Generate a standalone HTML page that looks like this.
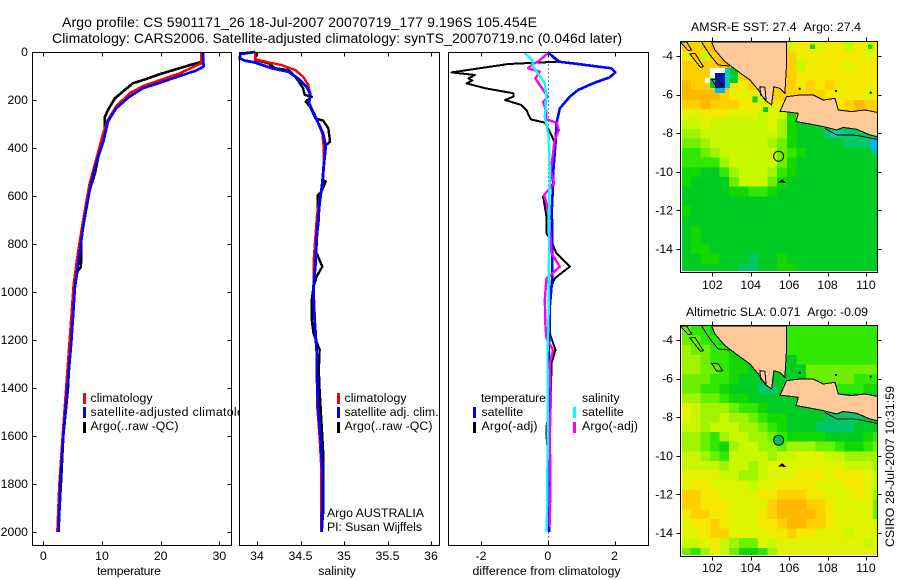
<!DOCTYPE html>
<html>
<head>
<meta charset="utf-8">
<title>Argo profile</title>
<style>
html,body{margin:0;padding:0;background:#fff;}
svg{display:block;}
text{font-family:"Liberation Sans",sans-serif;font-size:12.3px;fill:#000;}
.t{font-size:14px;}
</style>
</head>
<body>
<svg id="fig" xmlns="http://www.w3.org/2000/svg" width="900" height="580" viewBox="0 0 900 580">
<defs>
<clipPath id="clipMap1"><rect x="682" y="42" width="195" height="229"/></clipPath>
<clipPath id="clipMap2"><rect x="682" y="326" width="195" height="229"/></clipPath>
<clipPath id="clipCoast1"><rect x="680" y="42" width="197" height="231"/></clipPath>
<clipPath id="clipCoast2"><rect x="680" y="326" width="197" height="231"/></clipPath>
</defs>
<text class="t" x="62" y="27" textLength="475" lengthAdjust="spacing">Argo profile: CS 5901171_26 18-Jul-2007 20070719_177 9.196S 105.454E</text>
<text class="t" x="52" y="43" textLength="570" lengthAdjust="spacing">Climatology: CARS2006. Satellite-adjusted climatology: synTS_20070719.nc (0.046d later)</text>

<g id="panelT"></g>
<g>
<rect x="83" y="393" width="3" height="11" fill="#ff0000"/>
<rect x="83" y="407" width="3" height="11" fill="#0000ff"/>
<rect x="83" y="422" width="3" height="11" fill="#000"/>
<text x="90.5" y="402" textLength="62" lengthAdjust="spacing">climatology</text>
<text x="90.5" y="416" textLength="167" lengthAdjust="spacing">satellite-adjusted climatology</text>
<text x="90.5" y="430" textLength="88" lengthAdjust="spacing">Argo(..raw -QC)</text>
</g>

<g id="panelS"></g>
<g>
<rect x="337" y="393" width="3" height="11" fill="#ff0000"/>
<rect x="337" y="407" width="3" height="11" fill="#0000ff"/>
<rect x="337" y="422" width="3" height="11" fill="#000"/>
<text x="344.5" y="402" textLength="62" lengthAdjust="spacing">climatology</text>
<text x="344.5" y="416" textLength="94" lengthAdjust="spacing">satellite adj. clim.</text>
<text x="344.5" y="430" textLength="88" lengthAdjust="spacing">Argo(..raw -QC)</text>
<text x="327" y="517" textLength="97" lengthAdjust="spacing">Argo AUSTRALIA</text>
<text x="327" y="531" textLength="95" lengthAdjust="spacing">PI: Susan Wijffels</text>
</g>

<g id="panelD"></g>
<g>
<text x="481" y="402" textLength="65" lengthAdjust="spacing">temperature</text>
<text x="582" y="402">salinity</text>
<rect x="473" y="407" width="3" height="11" fill="#0000ff"/>
<rect x="473" y="422" width="3" height="11" fill="#000"/>
<rect x="573" y="407" width="3" height="11" fill="#00ffff"/>
<rect x="573" y="422" width="3" height="11" fill="#ff00ff"/>
<text x="481.5" y="416">satellite</text>
<text x="481.5" y="430" textLength="56" lengthAdjust="spacing">Argo(-adj)</text>
<text x="582" y="416">satellite</text>
<text x="582" y="430" textLength="56" lengthAdjust="spacing">Argo(-adj)</text>
</g>

<g id="map1"></g>
<g id="map2"></g>

<text x="129" y="575" text-anchor="middle" textLength="64" lengthAdjust="spacing">temperature</text>
<text x="337" y="575" text-anchor="middle">salinity</text>
<text x="546.5" y="575" text-anchor="middle" textLength="148" lengthAdjust="spacing">difference from climatology</text>
<text x="776" y="31" text-anchor="middle" textLength="170" lengthAdjust="spacing">AMSR-E SST: 27.4&#160;&#160;Argo: 27.4</text>
<text x="777" y="316" text-anchor="middle" textLength="182" lengthAdjust="spacing">Altimetric SLA: 0.071&#160;&#160;Argo: -0.09</text>
<text transform="translate(894,466.5) rotate(-90)" text-anchor="middle" textLength="161" lengthAdjust="spacing">CSIRO 28-Jul-2007 10:31:59</text>
</svg>

<script>
// ---- Profile data (depth in dbar, values in native units) ----
var depthTicks = [0,200,400,600,800,1000,1200,1400,1600,1800,2000];
var tempTicks = [0,10,20,30];
var salTicks = [34,34.5,35,35.5,36];
var diffTicks = [-2,0,2];

var tempArgoDepth = [0,40,54,75,92,117,130,158,193,242,270,325,408,505,575,672,755,895,915,978,1100,1400,1600,1800,2000];
var tempArgoValue = [27.2,27.2,25,22.2,19.9,17,15.3,13.9,12.2,11,10.5,10.5,9.6,8.8,7.9,7.1,6.5,6.4,5.8,5.4,4.8,4.2,3.4,3.0,2.55];
var tempClimDepth = [0,47,57,89,117,142,172,228,283,339,450,547,700,839,964,1200,1400,1600,1800,2000];
var tempClimValue = [26.9,26.9,26,23.2,19.9,17,14.7,12.4,11,10.2,9,7.9,6.8,5.9,5.2,4.5,3.9,3.3,2.75,2.4];
var tempSatDepth = [0,61,78,100,128,151,186,235,290,367,464,575,728,853,978,1200,1400,1600,1800,2000];
var tempSatValue = [27.2,27.3,26,23.2,19.9,17,14.7,12.4,11,10.3,9,7.9,6.8,6.1,5.4,4.8,4.1,3.4,2.9,2.6];

var salArgoDepth = [0,33,47,68,75,103,151,179,186,207,228,276,286,318,374,394,533,540,582,596,651,700,825,894,935,978,1033,1117,1172,1241,1325,1408,1659,1923,1990];
var salArgoValue = [33.99,33.98,34.13,34.21,34.36,34.44,34.53,34.55,34.63,34.56,34.61,34.67,34.76,34.82,34.84,34.77,34.76,34.79,34.74,34.70,34.70,34.71,34.67,34.75,34.686,34.65,34.63,34.63,34.65,34.72,34.71,34.72,34.76,34.76,34.745];
var salClimDepth = [3,30,43,54,75,103,137,172,214,269,339,408,533,680,880,935,978,1158,1250,1464,1604,1743,2000];
var salClimValue = [33.98,33.98,34.13,34.28,34.44,34.53,34.59,34.61,34.60,34.67,34.75,34.77,34.76,34.69,34.65,34.65,34.65,34.67,34.69,34.69,34.72,34.74,34.74];
var salSatDepth = [0,8,26,36,44,68,82,110,144,172,214,269,339,394,464,547,630,755,894,978,1047,1158,1269,1325,1464,1604,1743,1882,2000];
var salSatValue = [33.98,33.81,33.80,33.86,33.98,34.17,34.36,34.47,34.57,34.61,34.60,34.67,34.76,34.79,34.77,34.75,34.72,34.69,34.67,34.65,34.65,34.67,34.69,34.686,34.70,34.73,34.75,34.75,34.745];

var diffTempArgoDepth = [0,40,50,85,96,110,119,131,151,172,186,200,221,242,281,294,346,380,492,547,603,686,756,783,839,894,943,992,1172,1242,1297,1450,1561,1600,1800,2000];
var diffTempArgoValue = [0,0.36,-1.18,-2.88,-2.18,-2.38,-2.26,-2.43,-1.88,-1.03,-1.03,-1.28,-0.79,-0.64,-0.51,-0.09,0.11,0.21,0.09,0.16,-0.14,-0.04,-0.04,0.09,0.26,0.66,0.21,0.06,0.06,0.23,0.11,0.09,-0.04,-0.04,0.08,0];
var diffTempSatDepth = [0,40,50,61,68,85,106,128,158,186,235,297,380,506,547,686,700,950,1061,1256,1533,1600,2000];
var diffTempSatValue = [0,0.31,0.9,1.5,1.9,2.02,1.85,1.4,0.91,0.66,0.36,0.26,0.23,0.16,0.16,0.11,0.13,0.13,0.06,0.03,0,0,0.04];
var diffSalArgoDepth = [5,40,50,68,82,110,158,186,207,249,281,294,325,367,492,547,596,631,700,839,894,929,943,1033,1144,1193,1242,1297,1450,1600,1800,1980];
var diffSalArgoValue = [0,-0.29,-0.44,-0.59,-0.24,-0.37,-0.14,0.01,-0.14,-0.04,-0.04,0.26,0.33,0.21,0.09,0.19,-0.11,-0.04,0.05,0.11,0.36,0.09,-0.04,-0.09,-0.07,-0.04,0.16,0.06,0.09,0.06,0.08,0.05];
var diffSalSatDepth = [5,33,61,131,186,269,353,506,686,700,1061,1256,1600,2000];
var diffSalSatValue = [-0.69,-0.47,-0.44,-0.09,-0.04,-0.09,0.03,0.06,0.03,0.04,0.03,-0.01,0,-0.03];

// ---- Map data: each character is one 0.5-degree colour level ----
var levelColors = {W:'#ffffff',N:'#0018a8',I:'#00b8e8',2:'#00d0b0',3:'#00c868',4:'#00cc24',5:'#12d800',6:'#30e800',7:'#6cf000',8:'#a0f400',9:'#c8f800',A:'#e0f400',B:'#f4ea00',C:'#ffd000',D:'#ffb800'};
var sstRows = [
"CCCDDCCCCCCABBABB9BAB",
"BC9CDCCCCCCCABBBBBBAB",
"CCCCDDCCCCCC9BBBBABBB",
"CCCCCBCCCCCCBBBBBBBBB",
"DCCCDBBCCCCCBCBCBBBBB",
"DDDDCBABACCCCCCBBBBAB",
"CCDCCCBBAABCCCCBBCDCC",
"AABBBAAA9A95CCCCCCCCC",
"99A999999A85444444444",
"889999999985444333322",
"778999999875444443332",
"667899999976544444443",
"666689999975444444444",
"554468999865444444444",
"544447999754444444444",
"444445566544444444444",
"444444444444444444444",
"544444444444444444444",
"444444444444444444444",
"454444444444444444444",
"454444444444444444444",
"455444444444444444444",
"445544434454444444444",
"444444334455444444444"];
var slaRows = [
"766556666666666666666",
"776655566666666666666",
"877665544666666666666",
"887665544444666666666",
"887765544444477777777",
"777665444444477777666",
"776654443344444666655",
"887765544444444444444",
"A98887665444444444444",
"A98898876554444333344",
"998999887654443333444",
"887689988765555444456",
"887658998878887765567",
"998769999899AAA998888",
"999989989AAAAAAAA9998",
"AAAA99889AAABBBABBBA9",
"ABBAAAA9AABBBBAAABBA9",
"CCBBAAAABBCCCBBAAABA8",
"CCBBBAAAACDDDCCBAAAA7",
"BCCBBAAABCDDDDCBAAAA7",
"ABBCBAAABBCDDCCBAAAA9",
"AABCCAAAABBCBBAAA9AAA",
"99AB9877A9AAAAAAAAA9A",
"768A975568AAAAAAAAAAA"];
// Small SST features: west lon, north lat, east lon, south lat, level
var sstPatchWest = [101.88,101.62,101.88,102.14,102.14,102.66,102.92,104.10,104.65,107.10,110.10,107.80,108.13,110.20];
var sstPatchNorth = [-4.62,-5.14,-5.14,-4.88,-5.66,-4.62,-4.62,-6.10,-6.65,-3.40,-3.40,-7.60,-7.85,-8.25];
var sstPatchEast = [102.66,101.88,102.14,102.66,102.66,102.92,103.34,104.35,104.90,107.35,110.35,110.60,108.80,110.60];
var sstPatchSouth = [-5.14,-5.40,-5.66,-5.66,-5.92,-5.66,-5.40,-6.40,-6.90,-3.65,-3.65,-8.30,-8.20,-8.90];
var sstPatchLevel = ['W','W','4','N','I','2','4','4','4','5','5','3','2','I'];

var mapLonTicks = [102,104,106,108,110];
var mapLatTicks = [-4,-6,-8,-10,-12,-14];
var sumatraLon = [101.97,102.14,102.66,103.01,103.35,103.96,104.40,104.74,105.09,105.21,105.52,105.78,105.87,105.87];
var sumatraLat = [-3.27,-3.69,-4.29,-4.55,-4.81,-5.24,-5.76,-6.28,-6.54,-5.59,-5.68,-5.93,-4.38,-3.27];
var javaLon = [105.52,105.87,106.57,107.26,107.78,108.39,108.56,109.26,109.95,110.6,110.6,110.21,109.52,108.82,108.48,107.78,106.91,106.36,106.48,105.78];
var javaLat = [-6.88,-6.11,-6.02,-6.02,-6.28,-6.19,-6.80,-6.88,-6.80,-6.92,-8.18,-8.09,-7.80,-7.70,-7.83,-7.66,-7.49,-7.40,-6.97,-6.88];
var siberutLon = [100.84,101.10,101.53,101.39];
var siberutLat = [-3.90,-3.86,-4.55,-4.59];
var sipuraLon = [100.32,100.66,100.92,100.75];
var sipuraLat = [-3.27,-3.27,-3.69,-3.72];
var engganoLon = [101.97,102.31,102.54,102.23];
var engganoLat = [-5.21,-5.24,-5.59,-5.62];
var sundaLon = [104.48,104.74,104.80,104.52];
var sundaLat = [-5.59,-5.62,-6.28,-6.02];
var shelfLon = [101.44,101.88,102.31,102.92];
var shelfLat = [-3.27,-3.95,-4.47,-4.52];
var javaShelfLon = [107.87,108.48,109.52,110.6];
var javaShelfLat = [-7.76,-8.09,-8.11,-8.32];
var christmasLon = [105.49,105.65,105.78];
var christmasLat = [-10.53,-10.42,-10.55];
var isletLon = [106.5,110.2,108.39];
var isletLat = [-5.65,-5.85,-5.76];
var argoLon = 105.454;
var argoLat = -9.196;

var NS = 'http://www.w3.org/2000/svg';
function make(tag, parent, name) {
  var el = document.createElementNS(NS, tag);
  
  
  parent.appendChild(el);
  return el;
}
function linear(d0, d1, p0, p1) {
  return function (v) { return p0 + (v - d0) * (p1 - p0) / (d1 - d0); };
}
var yDepth = linear(0, 2000, 52, 532);
var TOP = 52.5, BOTTOM = 545.5;

function seg(parent, name, x1, y1, x2, y2) {
  var el = make('line', parent, name);
  el.setAttribute('x1', x1);
  el.setAttribute('y1', y1);
  el.setAttribute('x2', x2);
  el.setAttribute('y2', y2);
  el.setAttribute('stroke', '#000');
  el.setAttribute('stroke-width', '1');
  el.setAttribute('shape-rendering', 'crispEdges');
  return el;
}
function label(parent, name, x, y, anchor, str) {
  var el = make('text', parent, name);
  el.setAttribute('x', x);
  el.setAttribute('y', y);
  el.setAttribute('text-anchor', anchor);
  el.textContent = str;
  return el;
}
function frame(parent, left, right, top, bottom) {
  var el = make('rect', parent, 'panel-frame');
  el.setAttribute('x', left);
  el.setAttribute('y', top);
  el.setAttribute('width', right - left);
  el.setAttribute('height', bottom - top);
  el.setAttribute('fill', 'none');
  el.setAttribute('stroke', '#000');
  el.setAttribute('shape-rendering', 'crispEdges');
}
function panelBase(id, left, right, xScale, ticks) {
  var g = document.getElementById(id);
  var bg = make('rect', g, 'panel-background');
  bg.setAttribute('x', left);
  bg.setAttribute('y', TOP);
  bg.setAttribute('width', right - left);
  bg.setAttribute('height', BOTTOM - TOP);
  bg.setAttribute('fill', '#fff');
  ticks.forEach(function (t) {
    var x = Math.round(xScale(t)) + 0.5;
    seg(g, 'x-tick-top', x, TOP, x, TOP + 4);
    seg(g, 'x-tick-bottom', x, BOTTOM - 4, x, BOTTOM);
    label(g, 'x-tick-label', xScale(t), 560, 'middle', String(t));
  });
  return g;
}
function series(g, name, color, xScale, depths, values, width) {
  var pts = depths.map(function (d, i) { return xScale(values[i]).toFixed(1) + ',' + yDepth(d).toFixed(1); });
  var el = make('polyline', g, name);
  el.setAttribute('points', pts.join(' '));
  el.setAttribute('fill', 'none');
  el.setAttribute('stroke', color);
  el.setAttribute('stroke-width', width);
  el.setAttribute('stroke-linejoin', 'round');
  el.setAttribute('shape-rendering', 'crispEdges');
}

// Temperature panel
var xT = linear(0, 30, 43.3, 219.4);
var gT = panelBase('panelT', 32.5, 231.5, xT, tempTicks);
depthTicks.forEach(function (d) {
  var y = Math.round(yDepth(d)) + 0.5;
  seg(gT, 'y-tick-left', 32.5, y, 36.5, y);
  seg(gT, 'y-tick-right', 227.5, y, 231.5, y);
  label(gT, 'y-tick-label', 28, yDepth(d) + 4, 'end', String(d));
});
series(gT, 'temperature-argo-line', '#000', xT, tempArgoDepth, tempArgoValue, 2.6);
series(gT, 'temperature-climatology-line', '#ff0000', xT, tempClimDepth, tempClimValue, 2.6);
series(gT, 'temperature-satellite-line', '#0000ff', xT, tempSatDepth, tempSatValue, 2.6);
frame(gT, 32.5, 231.5, TOP, BOTTOM);

// Salinity panel
var xS = linear(34, 36, 257, 431);
var gS = panelBase('panelS', 239.5, 439.5, xS, salTicks);
series(gS, 'salinity-argo-line', '#000', xS, salArgoDepth, salArgoValue, 2.4);
series(gS, 'salinity-climatology-line', '#ff0000', xS, salClimDepth, salClimValue, 2.4);
series(gS, 'salinity-satellite-line', '#0000ff', xS, salSatDepth, salSatValue, 2.8);
frame(gS, 239.5, 439.5, TOP, BOTTOM);

// Difference panel
var xD = linear(-2, 2, 481, 614.6);
var gD = panelBase('panelD', 448.5, 648.5, xD, diffTicks);
var zeroX = Math.round(xD(0)) + 0.5;
var zeroLine = seg(gD, 'zero-reference-line', zeroX, TOP, zeroX, BOTTOM);
zeroLine.setAttribute('stroke-dasharray', '1 3');
series(gD, 'difference-temperature-argo-line', '#000', xD, diffTempArgoDepth, diffTempArgoValue, 2);
series(gD, 'difference-temperature-satellite-line', '#0000ff', xD, diffTempSatDepth, diffTempSatValue, 2.6);
series(gD, 'difference-salinity-argo-line', '#ff00ff', xD, diffSalArgoDepth, diffSalArgoValue, 2.4);
series(gD, 'difference-salinity-satellite-line', '#00ffff', xD, diffSalSatDepth, diffSalSatValue, 2.4);
frame(gD, 448.5, 648.5, TOP, BOTTOM);

// Maps
function shape(g, name, lons, lats, lonX, latY, fill, closed) {
  var pts = lons.map(function (lo, i) { return lonX(lo).toFixed(1) + ',' + latY(lats[i]).toFixed(1); });
  var el = make(closed ? 'polygon' : 'polyline', g, name);
  el.setAttribute('points', pts.join(' '));
  el.setAttribute('fill', fill);
  el.setAttribute('stroke', '#000');
  el.setAttribute('stroke-width', '1');
  el.setAttribute('shape-rendering', 'crispEdges');
}
function drawMap(id, rows, offset, clipData, clipCoast, fillCircle, labelY) {
  var g = document.getElementById(id);
  var lonX = linear(102, 110, 712.3, 865.9);
  var latY = linear(-4, -14, 56 + offset, 249 + offset);
  var left = 680.5, right = 877.5, top = 41.5 + offset, bottom = 272.5 + offset;
  var cells = make('g', g, 'map-cells');
  cells.setAttribute('clip-path', 'url(#' + clipData + ')');
  cells.setAttribute('shape-rendering', 'crispEdges');
  rows.forEach(function (row, j) {
    row.split('').forEach(function (code, i) {
      var x0 = lonX(100.38 + 0.5 * i), x1 = lonX(100.38 + 0.5 * (i + 1));
      var y0 = latY(-3.27 - 0.5 * j), y1 = latY(-3.27 - 0.5 * (j + 1));
      var c = make('rect', cells, 'map-cell');
      c.setAttribute('x', x0.toFixed(1));
      c.setAttribute('y', y0.toFixed(1));
      c.setAttribute('width', (x1 - x0 + 0.5).toFixed(1));
      c.setAttribute('height', (y1 - y0 + 0.5).toFixed(1));
      c.setAttribute('fill', levelColors[code]);
    });
  });
  if (id === 'map1') {
    sstPatchWest.forEach(function (w, k) {
      var p = make('rect', cells, 'sst-feature-cell');
      p.setAttribute('x', lonX(w).toFixed(1));
      p.setAttribute('y', latY(sstPatchNorth[k]).toFixed(1));
      p.setAttribute('width', (lonX(sstPatchEast[k]) - lonX(w)).toFixed(1));
      p.setAttribute('height', (latY(sstPatchSouth[k]) - latY(sstPatchNorth[k])).toFixed(1));
      p.setAttribute('fill', levelColors[sstPatchLevel[k]]);
    });
  }
  var coast = make('g', g, 'coastlines');
  coast.setAttribute('clip-path', 'url(#' + clipCoast + ')');
  shape(coast, 'sumatra-land', sumatraLon, sumatraLat, lonX, latY, '#ffc999', true);
  shape(coast, 'java-land', javaLon, javaLat, lonX, latY, '#ffc999', true);
  shape(coast, 'siberut-island', siberutLon, siberutLat, lonX, latY, 'none', true);
  shape(coast, 'sipura-island', sipuraLon, sipuraLat, lonX, latY, 'none', true);
  shape(coast, 'enggano-island', engganoLon, engganoLat, lonX, latY, 'none', true);
  shape(coast, 'sunda-outline', sundaLon, sundaLat, lonX, latY, 'none', true);
  shape(coast, 'sumatra-shelf-line', shelfLon, shelfLat, lonX, latY, 'none', false);
  shape(coast, 'java-shelf-line', javaShelfLon, javaShelfLat, lonX, latY, 'none', false);
  shape(coast, 'christmas-island', christmasLon, christmasLat, lonX, latY, '#000', true);
  isletLon.forEach(function (lo, k) {
    var s = make('rect', coast, 'islet');
    s.setAttribute('x', lonX(lo).toFixed(1));
    s.setAttribute('y', latY(isletLat[k]).toFixed(1));
    s.setAttribute('width', '2');
    s.setAttribute('height', '2');
    s.setAttribute('fill', '#000');
  });
  var circ = make('circle', g, 'argo-float-position');
  circ.setAttribute('cx', lonX(argoLon));
  circ.setAttribute('cy', latY(argoLat));
  circ.setAttribute('r', '5');
  circ.setAttribute('fill', fillCircle);
  circ.setAttribute('stroke', '#000');
  frame(g, left, right, top, bottom);
  mapLonTicks.forEach(function (t) {
    var x = Math.round(lonX(t)) + 0.5;
    seg(g, 'map-x-tick-top', x, top - 4, x, top);
    seg(g, 'map-x-tick-bottom', x, bottom, x, bottom + 4);
    label(g, 'map-x-tick-label', lonX(t), labelY, 'middle', String(t));
  });
  mapLatTicks.forEach(function (t) {
    var y = Math.round(latY(t)) + 0.5;
    seg(g, 'map-y-tick-left', left - 4, y, left, y);
    seg(g, 'map-y-tick-right', right, y, right + 4, y);
    label(g, 'map-y-tick-label', 673, latY(t) + 4, 'end', String(t));
  });
}
drawMap('map1', sstRows, 0, 'clipMap1', 'clipCoast1', 'none', 289);
drawMap('map2', slaRows, 284, 'clipMap2', 'clipCoast2', '#00c060', 572);
</script>
</body>
</html>
